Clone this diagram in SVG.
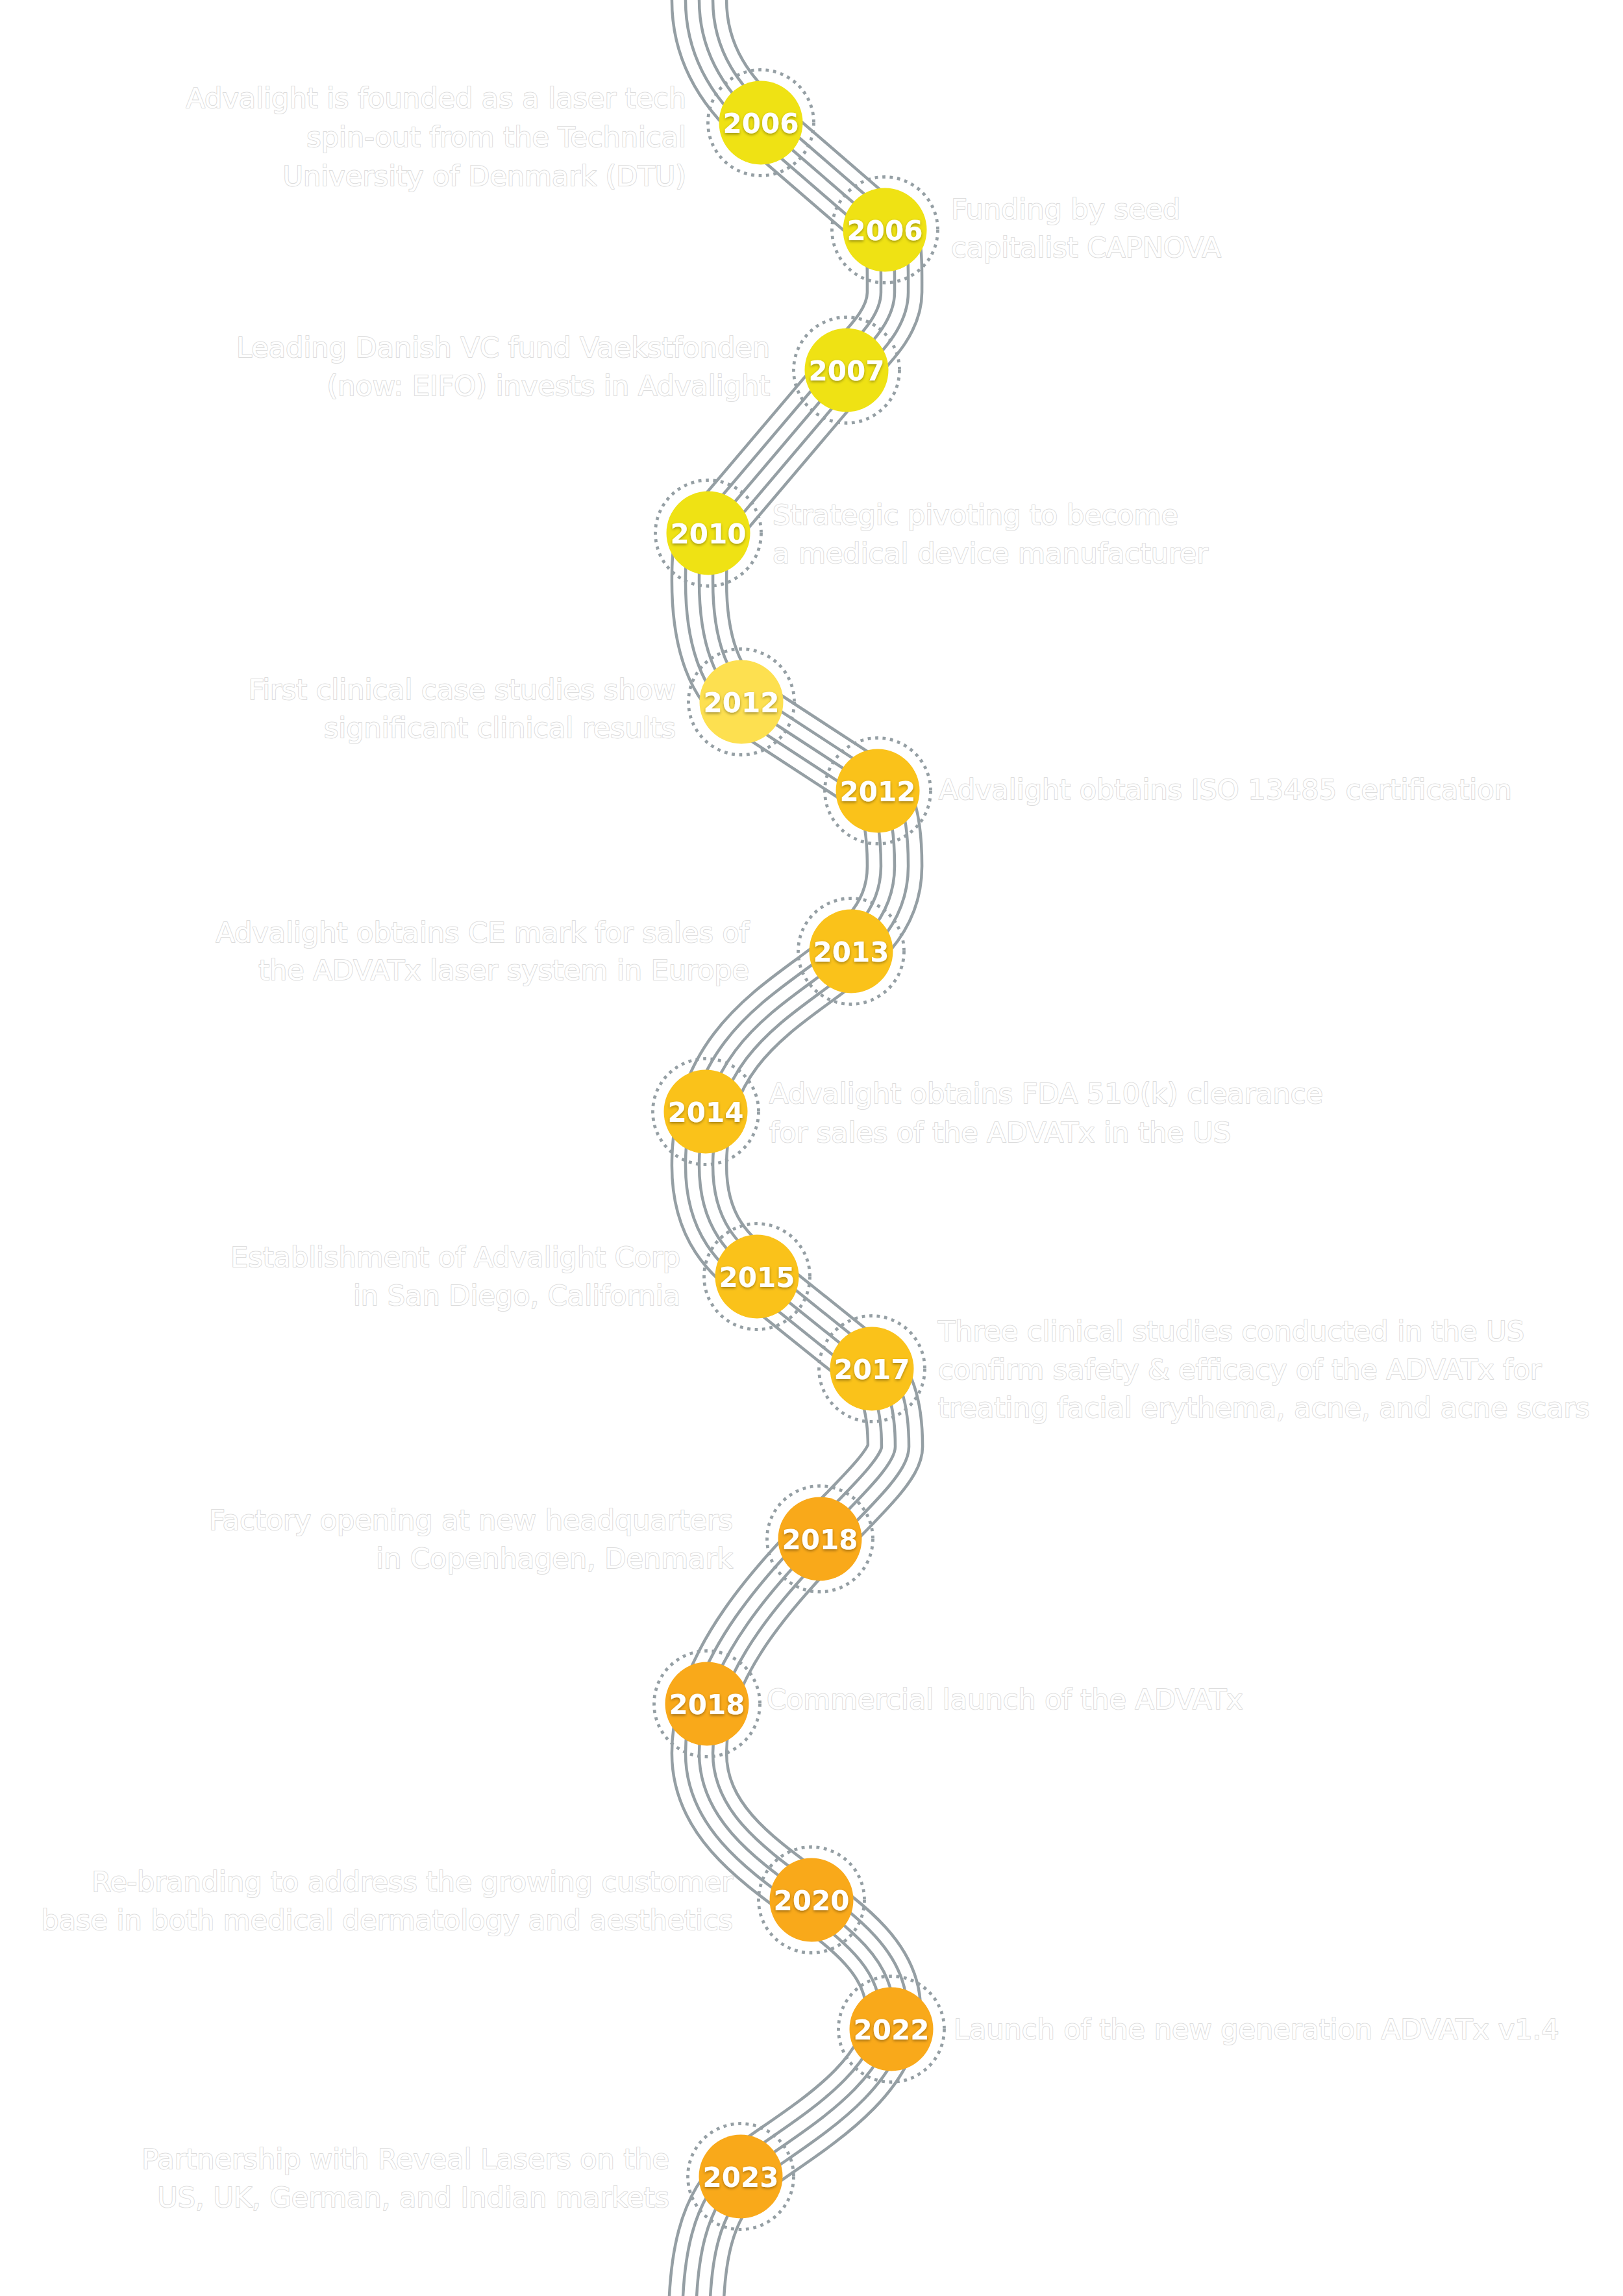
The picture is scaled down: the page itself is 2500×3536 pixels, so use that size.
<svg xmlns="http://www.w3.org/2000/svg" width="2500" height="3536" viewBox="0 0 2500 3536">
<defs>
<style>
.road{fill:none;stroke-linejoin:round;stroke-linecap:butt}
.g{stroke:#959fa4}
.w{stroke:#ffffff}
.ring{fill:none;stroke:#959fa4;stroke-width:4.8;stroke-dasharray:4.8 6.7}
.c1{fill:#efe214}
.c2{fill:#fde050}
.c3{fill:#fac21a}
.c4{fill:#f9a91a}
.yr{font-family:"DejaVu Sans","Liberation Sans",sans-serif;font-weight:bold;font-size:42px;fill:#ffffff;text-anchor:middle;filter:url(#ys)}
.desc{font-family:"DejaVu Sans","Liberation Sans",sans-serif;font-size:43px;fill:#ffffff;stroke:#dcdcdc;stroke-width:2;paint-order:stroke;stroke-linejoin:round}
.l{text-anchor:end}
.r{text-anchor:start}
</style>
<filter id="ys" x="-20%" y="-30%" width="140%" height="170%">
<feDropShadow dx="0" dy="2" stdDeviation="2" flood-color="#000000" flood-opacity="0.35"/>
</filter>
<path id="road" d="M 1077 -60 L 1077 0 C 1077 90 1126.6 149.8 1172 189 L 1363 354 C 1379.6 368.4 1378 400 1378 450 C 1378 500 1329.9 539.5 1304 570 L 1091 821 C 1078.1 836.3 1077 860 1077 895 C 1077 995 1104.3 1056.4 1142 1081 L 1352 1218 C 1368.8 1228.9 1378 1274 1378 1334 C 1378 1522.7 1077 1511.9 1077 1795 C 1077 1895 1127 1934.7 1166 1966 L 1343 2108 C 1366.4 2126.8 1379 2168 1379 2228 C 1379 2294.7 1077 2481.5 1077 2700 C 1077 2890 1376 2935 1376 3095 C 1376 3215 1210.3 3294.4 1141 3352 C 1087.1 3396.8 1072 3480 1072 3580 L 1072 3650"/>
</defs>
<rect x="0" y="0" width="2500" height="3536" fill="#ffffff"/>
<g id="connectors">
<use href="#road" class="road g" stroke-width="88.7"/>
<use href="#road" class="road w" stroke-width="79.7"/>
<use href="#road" class="road g" stroke-width="46.6"/>
<use href="#road" class="road w" stroke-width="37.6"/>
<use href="#road" class="road g" stroke-width="4.5"/>
</g>
<g id="node-2006-founded">
<circle class="ring" cx="1172" cy="189" r="81.5"/>
<circle class="c1" cx="1172" cy="189" r="64.5"/>
<text class="yr" x="1172" y="204.5">2006</text>
<text class="desc l"><tspan x="1057" y="166">Advalight is founded as a laser tech</tspan><tspan x="1057" y="226">spin-out from the Technical</tspan><tspan x="1057" y="286">University of Denmark (DTU)</tspan></text>
</g>
<g id="node-2006-funding">
<circle class="ring" cx="1363" cy="354" r="81.5"/>
<circle class="c1" cx="1363" cy="354" r="64.5"/>
<text class="yr" x="1363" y="369.5">2006</text>
<text class="desc r"><tspan x="1465" y="337">Funding by seed</tspan><tspan x="1465" y="396">capitalist CAPNOVA</tspan></text>
</g>
<g id="node-2007">
<circle class="ring" cx="1304" cy="570" r="81.5"/>
<circle class="c1" cx="1304" cy="570" r="64.5"/>
<text class="yr" x="1304" y="585.5">2007</text>
<text class="desc l"><tspan x="1186" y="550">Leading Danish VC fund Vaekstfonden</tspan><tspan x="1186" y="609">(now: EIFO) invests in Advalight</tspan></text>
</g>
<g id="node-2010">
<circle class="ring" cx="1091" cy="821" r="81.5"/>
<circle class="c1" cx="1091" cy="821" r="64.5"/>
<text class="yr" x="1091" y="836.5">2010</text>
<text class="desc r"><tspan x="1190" y="808">Strategic pivoting to become</tspan><tspan x="1190" y="867">a medical device manufacturer</tspan></text>
</g>
<g id="node-2012-clinical">
<circle class="ring" cx="1142" cy="1081" r="81.5"/>
<circle class="c2" cx="1142" cy="1081" r="64.5"/>
<text class="yr" x="1142" y="1096.5">2012</text>
<text class="desc l"><tspan x="1041" y="1077">First clinical case studies show</tspan><tspan x="1041" y="1136">significant clinical results</tspan></text>
</g>
<g id="node-2012-iso">
<circle class="ring" cx="1352" cy="1218" r="81.5"/>
<circle class="c3" cx="1352" cy="1218" r="64.5"/>
<text class="yr" x="1352" y="1233.5">2012</text>
<text class="desc r"><tspan x="1446" y="1231">Advalight obtains ISO 13485 certification</tspan></text>
</g>
<g id="node-2013">
<circle class="ring" cx="1311" cy="1465" r="81.5"/>
<circle class="c3" cx="1311" cy="1465" r="64.5"/>
<text class="yr" x="1311" y="1480.5">2013</text>
<text class="desc l"><tspan x="1154" y="1451">Advalight obtains CE mark for sales of</tspan><tspan x="1154" y="1509">the ADVATx laser system in Europe</tspan></text>
</g>
<g id="node-2014">
<circle class="ring" cx="1087" cy="1712" r="81.5"/>
<circle class="c3" cx="1087" cy="1712" r="64.5"/>
<text class="yr" x="1087" y="1727.5">2014</text>
<text class="desc r"><tspan x="1185" y="1699">Advalight obtains FDA 510(k) clearance</tspan><tspan x="1185" y="1759">for sales of the ADVATx in the US</tspan></text>
</g>
<g id="node-2015">
<circle class="ring" cx="1166" cy="1966" r="81.5"/>
<circle class="c3" cx="1166" cy="1966" r="64.5"/>
<text class="yr" x="1166" y="1981.5">2015</text>
<text class="desc l"><tspan x="1048" y="1951">Establishment of Advalight Corp</tspan><tspan x="1048" y="2010">in San Diego, California</tspan></text>
</g>
<g id="node-2017">
<circle class="ring" cx="1343" cy="2108" r="81.5"/>
<circle class="c3" cx="1343" cy="2108" r="64.5"/>
<text class="yr" x="1343" y="2123.5">2017</text>
<text class="desc r"><tspan x="1445" y="2065">Three clinical studies conducted in the US</tspan><tspan x="1445" y="2124">confirm safety &amp; efficacy of the ADVATx for</tspan><tspan x="1445" y="2183">treating facial erythema, acne, and acne scars</tspan></text>
</g>
<g id="node-2018-factory">
<circle class="ring" cx="1263" cy="2370" r="81.5"/>
<circle class="c4" cx="1263" cy="2370" r="64.5"/>
<text class="yr" x="1263" y="2385.5">2018</text>
<text class="desc l"><tspan x="1129" y="2356">Factory opening at new headquarters</tspan><tspan x="1129" y="2415">in Copenhagen, Denmark</tspan></text>
</g>
<g id="node-2018-launch">
<circle class="ring" cx="1089" cy="2624" r="81.5"/>
<circle class="c4" cx="1089" cy="2624" r="64.5"/>
<text class="yr" x="1089" y="2639.5">2018</text>
<text class="desc r"><tspan x="1181" y="2632">Commercial launch of the ADVATx</tspan></text>
</g>
<g id="node-2020">
<circle class="ring" cx="1250" cy="2926" r="81.5"/>
<circle class="c4" cx="1250" cy="2926" r="64.5"/>
<text class="yr" x="1250" y="2941.5">2020</text>
<text class="desc l"><tspan x="1129" y="2913">Re-branding to address the growing customer</tspan><tspan x="1129" y="2972">base in both medical dermatology and aesthetics</tspan></text>
</g>
<g id="node-2022">
<circle class="ring" cx="1373" cy="3125" r="81.5"/>
<circle class="c4" cx="1373" cy="3125" r="64.5"/>
<text class="yr" x="1373" y="3140.5">2022</text>
<text class="desc r"><tspan x="1469" y="3140">Launch of the new generation ADVATx v1.4</tspan></text>
</g>
<g id="node-2023">
<circle class="ring" cx="1141" cy="3352" r="81.5"/>
<circle class="c4" cx="1141" cy="3352" r="64.5"/>
<text class="yr" x="1141" y="3367.5">2023</text>
<text class="desc l"><tspan x="1031" y="3340">Partnership with Reveal Lasers on the</tspan><tspan x="1031" y="3399">US, UK, German, and Indian markets</tspan></text>
</g>
</svg>
